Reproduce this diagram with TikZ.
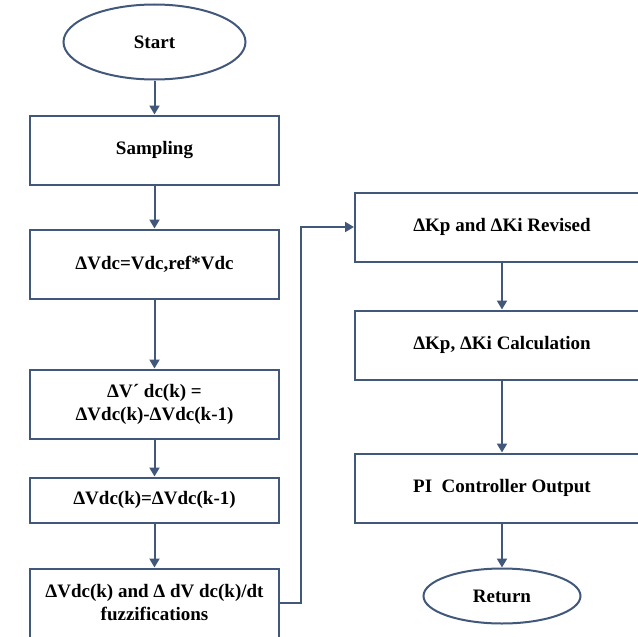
\documentclass[tikz,border=0pt]{standalone}
\usepackage{fontspec}
\setmainfont{Liberation Serif}
\usetikzlibrary{arrows.meta,shapes.geometric}
\definecolor{myblue}{RGB}{65,88,122}

\begin{document}
\begin{tikzpicture}[x=1pt,y=-1pt,font=\bfseries\fontsize{19}{23}\selectfont]
\tikzset{stepbox/.style ={draw=myblue,line width=2pt,fill=white,align=center,minimum height=69pt}}
\tikzset{leftbox/.style ={stepbox,minimum width=249pt}}
\tikzset{rightbox/.style ={stepbox,minimum width=294pt}}
\tikzset{terminal/.style ={ellipse,draw=myblue,line width=2pt,fill=white,inner sep=0pt}}
\tikzset{flow/.style ={draw=myblue,line width=2pt,-{Triangle[length=9pt,width=10pt]}}}
\useasboundingbox (0,0) rectangle (638,637);
% left column
\node[terminal,minimum width=182pt,minimum height=75pt] (start) at (154.5,42) {Start};
\node[leftbox] (sampling) at (154.5,150) {Sampling};
\node[leftbox] (error) at (154.5,264) {ΔVdc=Vdc,ref*Vdc};
\node[leftbox] (diff) at (154.5,404) {ΔV´ dc(k) =\\ΔVdc(k)-ΔVdc(k-1)};
\node[leftbox,minimum height=45pt] (update) at (154.5,500) {ΔVdc(k)=ΔVdc(k-1)};
\node[leftbox] (fuzz) at (154.5,603) {ΔVdc(k) and Δ dV dc(k)/dt\\fuzzifications};
% right column
\node[rightbox] (revise) at (502,227) {ΔKp and ΔKi Revised};
\node[rightbox] (calc) at (502,345) {ΔKp, ΔKi Calculation};
\node[rightbox] (pi) at (502,488) {PI\ \ Controller Output};
\node[terminal,minimum width=157pt,minimum height=55pt] (return) at (502,596) {Return};
% connectors
\draw[flow] (start) -- (sampling);
\draw[flow] (sampling) -- (error);
\draw[flow] (error) -- (diff);
\draw[flow] (diff) -- (update);
\draw[flow] (update) -- (fuzz);
\draw[flow] (fuzz.east) -- ++(21,0) |- (revise.west);
\draw[flow] (revise) -- (calc);
\draw[flow] (calc) -- (pi);
\draw[flow] (pi) -- (return);
\end{tikzpicture}
\end{document}
